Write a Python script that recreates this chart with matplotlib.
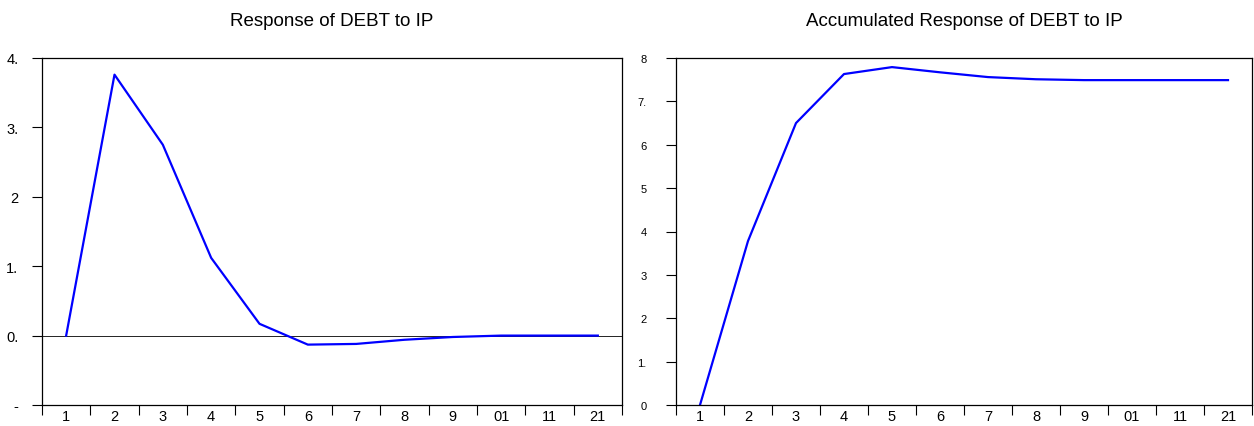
import matplotlib
matplotlib.use("Agg")
import matplotlib.pyplot as plt

plt.rcParams['font.family'] = ['Liberation Sans', 'DejaVu Sans']

periods = list(range(1, 13))
period_labels = ['1', '2', '3', '4', '5', '6', '7', '8', '9', '01', '11', '21']

response = [0.0, 3.76, 2.75, 1.12, 0.17, -0.13, -0.12, -0.06, -0.02, 0.0, 0.0, 0.0]
accumulated = [0.0, 3.78, 6.50, 7.63, 7.79, 7.67, 7.56, 7.51, 7.49, 7.49, 7.49, 7.49]

left_yticks = [-1, 0, 1, 2, 3, 4]
left_ylabels = ['-', '0.', '1.', '2', '3.', '4.']
right_yticks = [0, 1, 2, 3, 4, 5, 6, 7, 8]
right_ylabels = ['0', '1.', '2', '3', '4', '5', '6', '7.', '8']

fig = plt.figure(figsize=(12.54, 4.27), dpi=100)
ax1 = fig.add_axes([42 / 1254, 21 / 427, 580 / 1254, 347 / 427])
ax2 = fig.add_axes([676 / 1254, 21 / 427, 576 / 1254, 347 / 427])


def style(ax, yticks, ylabels, ylim, title):
    ax.set_xlim(0.5, 12.5)
    ax.set_ylim(*ylim)
    ax.set_xticks([p - 0.5 for p in periods] + [12.5])
    ax.set_xticklabels([])
    ax.set_xticks(periods, minor=True)
    ax.set_xticklabels(period_labels, minor=True, fontsize=10.5)
    ax.tick_params(axis='x', which='minor', length=0, pad=3)
    ax.tick_params(axis='x', which='major', length=7, width=0.8, direction='out')
    ax.set_yticks(yticks)
    ax.set_yticklabels(ylabels, fontsize=10.5)
    ax.tick_params(axis='y', length=7, width=0.8, direction='out', pad=10)
    for s in ax.spines.values():
        s.set_linewidth(0.9)
        s.set_color('black')
    pos = ax.get_position()
    fig.text(pos.x0 + pos.width / 2, 1 - 22 / 427, title, fontsize=13.5,
             ha='center', va='center')


ax1.axhline(0, color='black', linewidth=0.6)
ax1.plot(periods, response, color='#0000ff', linewidth=1.6)
style(ax1, left_yticks, left_ylabels, (-1, 4), 'Response of DEBT to IP')

ax2.plot(periods, accumulated, color='#0000ff', linewidth=1.6)
style(ax2, right_yticks, right_ylabels, (0, 8), 'Accumulated Response of DEBT to IP')
for lbl in ax2.get_yticklabels():
    lbl.set_fontsize(8)
ax2.tick_params(axis='y', pad=14)

fig.savefig('out.png', dpi=100)
